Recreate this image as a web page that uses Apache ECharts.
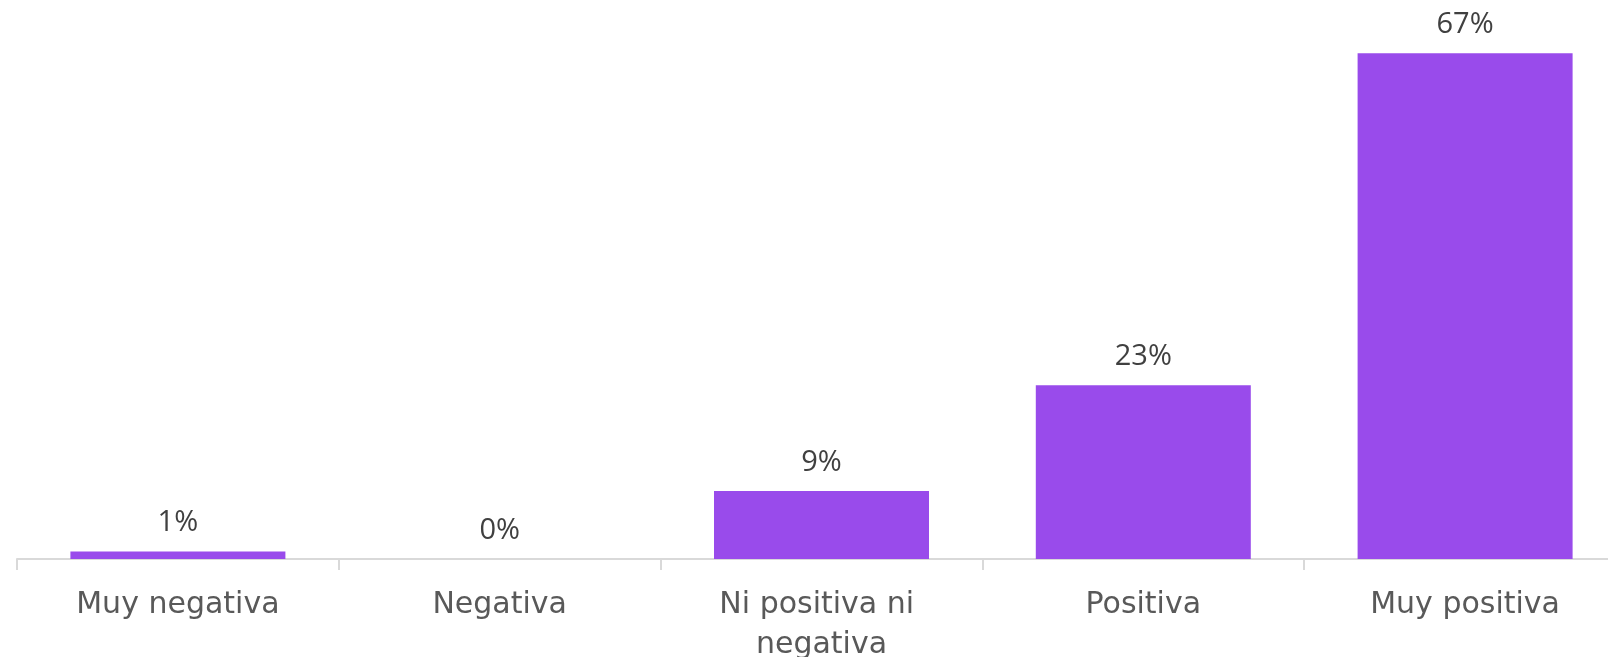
<!DOCTYPE html>
<html>
<head>
<meta charset="utf-8">
<script src="https://cdn.jsdelivr.net/npm/echarts@6/dist/echarts.min.js"></script>
<style>
html,body{margin:0;padding:0;background:#fff;}
#chart{width:1608px;height:657px;}
</style>
</head>
<body>
<div id="chart"></div>
<script>
const categories = ['Muy negativa', 'Negativa', 'Ni positiva ni negativa', 'Positiva', 'Muy positiva'];
const values = [1, 0, 9, 23, 67];

const chart = echarts.init(document.getElementById('chart'));
chart.setOption({
  animation: false,
  grid: { left: 17, width: 1609, top: 30.5, bottom: 98, containLabel: false, outerBoundsMode: 'none' },
  xAxis: {
    type: 'category',
    data: categories,
    axisLine: { show: true, lineStyle: { color: '#d9d9d9', width: 2 } },
    axisTick: { show: true, length: 11, lineStyle: { color: '#d9d9d9', width: 2 } },
    axisLabel: {
      color: '#595959',
      fontFamily: 'DejaVu Sans',
      fontSize: 30,
      margin: 26,
      lineHeight: 40,
      width: 290,
      overflow: 'break',
      interval: 0
    }
  },
  yAxis: {
    type: 'value',
    min: 0,
    max: 70,
    show: false,
    splitLine: { show: false }
  },
  series: [{
    type: 'bar',
    data: values,
    barWidth: 215,
    itemStyle: { color: '#994BEB' },
    label: {
      show: true,
      position: 'top',
      distance: 14,
      formatter: '{c}%',
      color: '#404040',
      fontFamily: 'Open Sans',
      fontSize: 29
    }
  }]
});
</script>
</body>
</html>
